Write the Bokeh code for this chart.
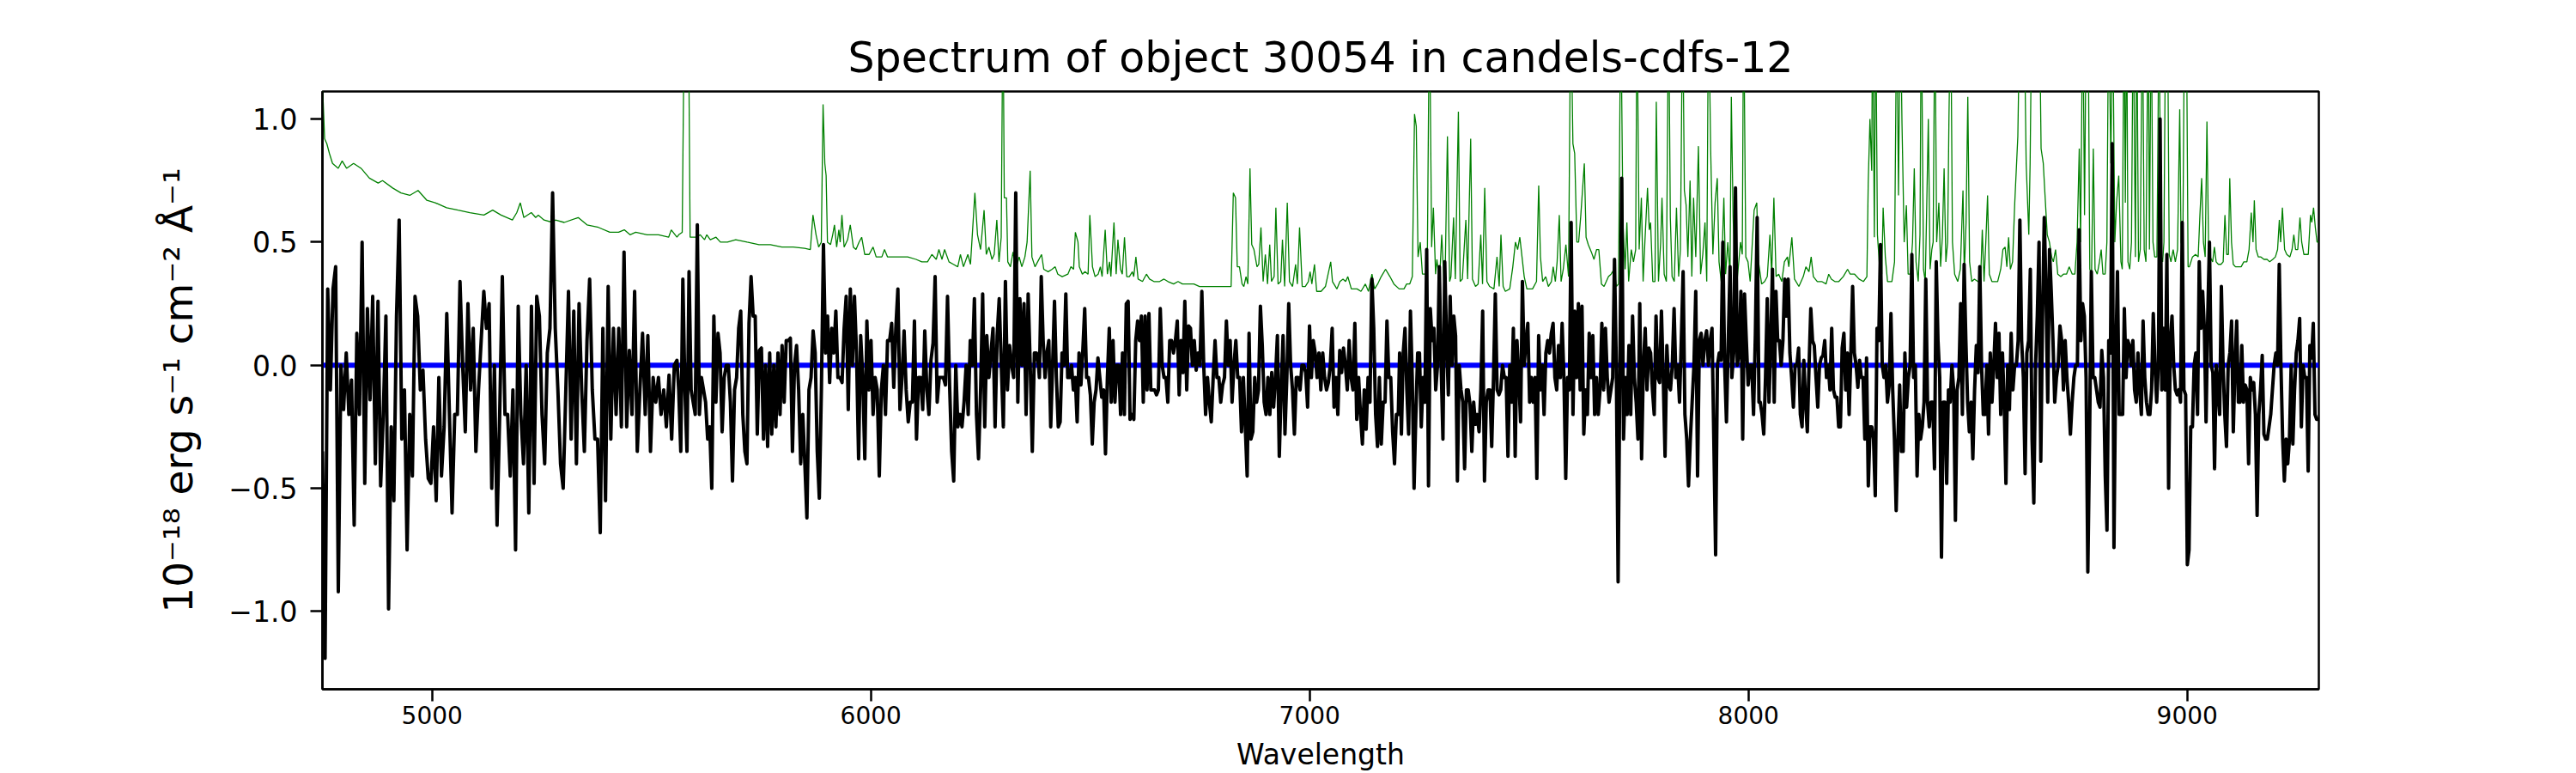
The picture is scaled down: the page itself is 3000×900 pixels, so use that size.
import numpy as np
from bokeh.plotting import figure
from bokeh.models import FixedTicker, Range1d, CustomJSTickFormatter, ColumnDataSource
from bokeh.embed import file_html
from bokeh.resources import INLINE

# ---------------- text ----------------
TITLE = "Spectrum of object 30054 in candels-cdfs-12"
X_LABEL = "Wavelength"
Y_LABEL = "10\u207b\u00b9\u2078 erg s\u207b\u00b9 cm\u207b\u00b2 \u00c5\u207b\u00b9"
x_ticks = [5000, 6000, 7000, 8000, 9000]
y_ticks = [-1.0, -0.5, 0.0, 0.5, 1.0]
x_limits = [4750, 9300]
y_limits = [-1.316, 1.112]

# ---------------- object spectrum (black), read per wavelength stretch ----------------
segment_edges = [(4750, 5558), (5562, 6382), (6384, 7202), (7205, 8024), (8027, 8845), (8849, 9299)]

flux_1 = [-0.35, -1.19, 0.31, -0.1, 0.31, 0.40, -0.92, 0.0, -0.18, 0.05, -0.2, -0.06, -0.65, 0.13, -0.2,
          0.5, -0.48, 0.23, -0.14, 0.28, -0.4, 0.26, -0.49, -0.2, 0.2, -0.99, -0.25, -0.55, 0.2, 0.59,
          -0.3, -0.1, -0.75, -0.2, -0.45, 0.28, 0.2, -0.1, -0.02, -0.3, -0.46, -0.48, -0.25, -0.55, -0.05,
          -0.45, -0.25, 0.21, -0.2, -0.6, -0.2, -0.2, 0.34, 0.0, -0.27, 0.25, -0.1, 0.15, -0.35, -0.1,
          0.1, 0.3, 0.15, 0.25, -0.5, 0.0, -0.65, -0.2, 0.36, -0.2, -0.2, -0.45, -0.1, -0.75, 0.24,
          -0.2, -0.4, 0.0, -0.6, 0.24, -0.48, 0.28, 0.2, -0.2, -0.4, 0.05, 0.15, 0.7, 0.15, -0.1,
          -0.4, -0.5, -0.1, 0.3, -0.3, 0.22, -0.4, 0.25, -0.1, -0.35, 0.1, 0.35, -0.1, -0.3, -0.3,
          -0.68, 0.15, -0.55, 0.32, -0.3, 0.15, -0.2, 0.15, -0.25, 0.46, -0.25, 0.06, -0.2, 0.3, -0.35,
          -0.1, 0.13, -0.2, 0.12, -0.35, -0.05, -0.15, -0.05, -0.2, -0.1, -0.25, -0.04, -0.3, 0.0, 0.02]

flux_2 = [-0.1, -0.35, 0.35, -0.1, -0.35, 0.38, -0.1, -0.15, -0.2, 0.57, -0.2, -0.05, -0.1, -0.15, -0.3,
          -0.25, -0.5, 0.2, -0.15, 0.13, 0.05, -0.27, -0.05, 0.0, 0.0, -0.15, -0.47, -0.1, -0.05, 0.15,
          0.22, -0.2, -0.35, -0.4, 0.17, 0.36, 0.2, 0.2, -0.28, 0.06, 0.07, -0.3, 0.0, -0.33, 0.05,
          -0.28, 0.0, -0.25, 0.05, -0.2, 0.08, -0.15, 0.1, 0.1, 0.11, -0.35, 0.0, 0.08, -0.1, -0.4,
          -0.2, -0.4, -0.62, -0.1, -0.05, 0.14, 0.05, -0.35, -0.54, -0.1, 0.49, 0.05, 0.2, -0.07, 0.15,
          0.05, 0.22, -0.05, -0.05, -0.07, 0.15, 0.28, -0.18, 0.31, 0.0, 0.28, 0.05, -0.38, 0.12, -0.05,
          -0.38, 0.18, -0.1, 0.1, -0.2, -0.05, -0.1, -0.45, -0.1, 0.0, -0.2, 0.1, 0.1, 0.17, -0.09,
          0.15, 0.31, -0.18, -0.05, 0.14, -0.1, -0.23, -0.15, -0.15, 0.18, -0.3, -0.05, -0.05, -0.18, 0.14,
          -0.1, -0.2, 0.02, 0.09, 0.36, -0.15, -0.05, -0.05, -0.05, -0.08, 0.28, -0.08, -0.35, -0.47, 0.0,
          -0.25, -0.2, -0.25, -0.15, 0.0, -0.2, 0.1, 0.0, 0.27, -0.2, -0.38, -0.1, 0.29, -0.25, 0.12,
          -0.05, 0.05, 0.15, -0.25, 0.12, 0.27, 0.0, -0.25, 0.34, -0.1, 0.08, 0.0, -0.05, 0.7, -0.15,
          0.27, 0.0, 0.25, -0.2, 0.29, 0.0, -0.35, 0.05, 0.05, 0.0]

flux_3 = [-0.05, 0.36, 0.1, -0.05, 0.05, 0.1, -0.25, 0.0, 0.26, -0.05, -0.25, -0.23, 0.05, 0.0, 0.29,
          -0.05, -0.05, 0.0, -0.1, -0.05, -0.23, 0.05, -0.08, 0.06, 0.23, -0.05, -0.05, -0.12, -0.32, -0.15,
          -0.1, 0.03, -0.05, -0.13, -0.1, -0.36, -0.05, 0.15, -0.15, 0.1, -0.15, 0.0, 0.0, -0.2, 0.05,
          -0.2, 0.25, 0.26, -0.22, -0.2, -0.22, 0.1, 0.18, 0.1, 0.2, -0.15, 0.2, -0.1, 0.21, -0.1,
          -0.1, -0.1, -0.12, -0.1, 0.23, 0.0, -0.05, -0.05, -0.15, 0.1, 0.1, 0.05, 0.1, 0.18, -0.12,
          0.1, -0.03, 0.26, -0.1, 0.16, 0.15, 0.0, 0.1, -0.02, 0.05, 0.0, 0.3, 0.0, -0.2, -0.05,
          -0.15, -0.23, -0.05, 0.1, -0.05, -0.05, -0.15, -0.08, -0.05, 0.18, 0.0, 0.1, -0.15, 0.0, 0.1,
          -0.05, -0.05, -0.27, -0.05, -0.25, -0.45, 0.13, -0.3, -0.27, -0.05, -0.15, -0.1, 0.24, 0.08, -0.15,
          -0.2, -0.05, -0.2, -0.03, -0.17, -0.05, 0.12, -0.37, -0.1, 0.12, -0.28, -0.05, 0.25, 0.0, -0.1,
          -0.28, -0.05, -0.05, -0.1, 0.0, 0.0, -0.03, -0.17, 0.16, -0.05, 0.1, 0.05, -0.05, 0.05, -0.1,
          0.05, -0.05, -0.1, -0.07, 0.0, 0.15, -0.17, -0.05, -0.2, 0.06, -0.03, 0.07, 0.0, -0.1, 0.1,
          -0.05, -0.1, 0.17, -0.22, -0.05, -0.2, -0.32, -0.1, -0.26, -0.05, -0.15, 0.35, 0.15, -0.2, -0.33,
          -0.05, -0.32, -0.15, -0.15, 0.18, -0.05, -0.05, -0.27, -0.4, -0.2, -0.2]

flux_4 = [0.05, -0.28, 0.05, 0.15, -0.1, -0.28, 0.22, -0.05, -0.5, -0.2, 0.05, 0.05, -0.25, -0.05, -0.15,
          0.47, -0.49, 0.23, 0.1, 0.15, -0.1, 0.0, 0.4, 0.0, -0.3, 0.42, 0.1, -0.12, 0.28, 0.0,
          0.2, 0.12, -0.47, 0.0, -0.1, -0.15, -0.42, -0.1, -0.1, -0.16, -0.35, -0.15, -0.24, -0.2, -0.27,
          -0.1, 0.22, -0.47, -0.15, -0.1, -0.1, -0.33, -0.05, 0.29, -0.1, -0.12, -0.1, 0.0, -0.05, -0.05,
          -0.37, 0.0, -0.15, 0.15, -0.37, 0.1, -0.05, -0.23, 0.34, 0.0, 0.1, 0.17, -0.15, -0.05, -0.15,
          -0.05, -0.46, 0.12, -0.1, 0.0, -0.2, 0.05, 0.1, 0.05, 0.13, 0.17, -0.05, -0.1, 0.08, -0.05,
          0.17, -0.05, -0.46, -0.05, -0.1, 0.58, -0.2, 0.22, -0.05, 0.25, -0.1, 0.24, -0.28, -0.1, -0.2,
          0.13, -0.05, 0.12, -0.2, -0.05, -0.2, -0.1, 0.17, -0.1, 0.15, -0.05, -0.15, -0.1, -0.05, 0.43,
          0.0, -0.88, 0.0, 0.76, -0.3, -0.05, -0.2, 0.08, -0.2, 0.2, -0.05, -0.15, -0.3, 0.25, -0.38,
          0.0, 0.15, -0.1, 0.07, 0.05, -0.1, -0.2, 0.2, -0.05, -0.07, 0.22, -0.05, -0.37, 0.08, -0.08,
          -0.1, 0.0, 0.23, -0.05, 0.0, -0.15, 0.1, 0.38, -0.2, -0.3, -0.49, -0.3, -0.15, 0.0, 0.3,
          -0.45, 0.1, 0.13, 0.0, 0.1, 0.14, 0.0, 0.1, 0.15, -0.3, -0.77, 0.0, 0.05, 0.02, 0.5,
          0.0, -0.23, 0.1, 0.4, -0.05, 0.05, 0.72, 0.0, 0.05, 0.3, -0.3, 0.29, 0.1, -0.08, 0.0,
          0.0, -0.2, 0.12, 0.6, -0.15]

flux_5 = [-0.15, -0.2, -0.28, -0.05, 0.27, -0.15, 0.1, 0.39, -0.15, 0.3, 0.1, 0.1, 0.0, 0.1, 0.35,
          0.2, 0.35, 0.05, -0.05, -0.17, 0.0, 0.0, 0.07, -0.2, -0.25, 0.02, -0.15, -0.27, 0.0, 0.23,
          0.1, 0.08, -0.05, -0.17, 0.0, 0.03, 0.04, 0.1, -0.05, 0.0, -0.1, 0.15, -0.1, -0.13, -0.13,
          -0.25, -0.25, 0.07, 0.13, -0.1, 0.05, -0.2, 0.05, 0.32, 0.05, 0.0, -0.09, 0.02, -0.05, -0.05,
          -0.3, 0.03, -0.49, -0.25, -0.25, -0.3, -0.53, 0.15, 0.1, 0.49, 0.0, -0.05, 0.0, -0.15, -0.08,
          0.21, -0.1, -0.3, -0.59, -0.3, -0.08, -0.35, -0.35, 0.05, -0.17, -0.05, 0.0, 0.45, -0.05, 0.0,
          -0.45, -0.2, -0.3, -0.25, -0.15, 0.35, -0.15, -0.25, -0.15, -0.15, -0.42, 0.42, 0.1, -0.05, -0.78,
          -0.15, -0.15, -0.48, -0.1, -0.15, 0.0, -0.1, -0.63, -0.1, -0.05, 0.25, -0.2, 0.41, 0.1, -0.15,
          -0.27, -0.15, -0.38, -0.1, 0.08, -0.03, 0.4, 0.0, -0.2, -0.2, 0.0, -0.28, 0.05, -0.15, 0.0,
          0.17, -0.05, 0.13, -0.2, 0.05, -0.15, -0.48, 0.0, -0.18, 0.13, -0.1, 0.0, 0.0, 0.1, 0.59,
          0.1, -0.05, -0.44, 0.05, 0.1, 0.39, -0.3, -0.56, 0.0, 0.2, 0.5, -0.39, 0.2, 0.6, 0.3,
          -0.15, 0.47, 0.3, 0.1, -0.15, -0.05, 0.0, 0.16, 0.1, -0.1, 0.1, -0.05, -0.15, -0.28, -0.15,
          -0.05, 0.0, 0.0, 0.55, 0.1, 0.25, 0.2, -0.05, -0.84, -0.3, 0.38, -0.05, -0.05, -0.1, -0.15,
          -0.17, 0.06, -0.05, -0.45, -0.67, 0.1, 0.05, 0.9, -0.74, 0.0, 0.38, -0.2]

flux_6 = [-0.2, -0.2, 0.23, -0.05, 0.1, 0.08, 0.0, 0.1, -0.1, -0.15, 0.05, -0.1, -0.2, 0.18, -0.05,
          -0.15, -0.2, -0.2, -0.1, 0.21, 0.0, -0.15, 0.0, 1.0, -0.1, 0.15, -0.1, 0.45, -0.5, 0.1,
          0.2, 0.0, -0.1, -0.12, -0.1, -0.15, 0.58, -0.1, -0.12, -0.81, -0.75, -0.25, -0.25, 0.0, 0.05,
          -0.2, 0.42, 0.15, 0.3, 0.15, -0.23, 0.2, 0.5, 0.0, -0.03, -0.42, 0.0, -0.1, -0.2, 0.32,
          0.0, -0.2, -0.33, 0.0, 0.05, 0.18, -0.27, 0.0, 0.18, -0.15, -0.15, 0.08, -0.15, -0.08, -0.1,
          -0.4, -0.05, -0.1, -0.07, -0.2, -0.61, -0.2, -0.1, 0.04, -0.28, -0.3, -0.3, -0.25, -0.2, -0.1,
          0.0, 0.05, 0.0, 0.41, 0.0, -0.3, -0.47, -0.3, -0.4, -0.3, 0.0, -0.32, -0.1, 0.05, 0.1,
          0.19, -0.25, 0.0, -0.05, -0.05, -0.43, 0.08, 0.03, 0.17, -0.2, -0.22, -0.22]

flux_segments = [flux_1, flux_2, flux_3, flux_4, flux_5, flux_6]

# ---------------- sky / noise spectrum (green) ----------------
sky_wave = [4750, 4755, 4760, 4766, 4773, 4786, 4795, 4805, 4821, 4838, 4857, 4877, 4887, 4910, 4929, 4949,
            4968, 4988, 5007, 5033, 5059, 5086, 5118, 5138, 5157, 5183, 5193, 5201, 5209, 5226, 5236, 5242,
            5255, 5275, 5281, 5301, 5333, 5353, 5379, 5405, 5425, 5438, 5451, 5464, 5490, 5516, 5539, 5545,
            5558,
            5562, 5570, 5575, 5584, 5588, 5601, 5611, 5621, 5626, 5634, 5647, 5657, 5673, 5692, 5718, 5745,
            5771, 5797, 5823, 5849, 5862, 5868, 5875, 5881, 5887, 5891, 5895, 5898, 5901, 5908, 5913, 5917,
            5922, 5927, 5930, 5934, 5939, 5947, 5953, 5960, 5966, 5973, 5979, 5986, 5996, 6005, 6012, 6025,
            6031, 6038, 6057, 6070, 6084, 6103, 6116, 6129, 6139, 6149, 6155, 6162, 6168, 6178, 6188, 6198,
            6204, 6211, 6221, 6227, 6237, 6243, 6250, 6258, 6263, 6269, 6276, 6281, 6287, 6292, 6297, 6301,
            6304, 6309, 6312, 6318, 6324, 6330, 6338, 6344, 6351, 6356, 6363, 6367, 6374, 6380,
            6389, 6394, 6404, 6413, 6420, 6426, 6436, 6449, 6456, 6462, 6466, 6472, 6475, 6482, 6488, 6495,
            6499, 6505, 6511, 6518, 6523, 6527, 6534, 6539, 6544, 6547, 6554, 6559, 6563, 6569, 6573, 6578,
            6583, 6589, 6596, 6599, 6604, 6609, 6619, 6628, 6635, 6645, 6658, 6668, 6677, 6690, 6700, 6710,
            6723, 6736, 6749, 6762, 6775, 6788, 6801, 6814, 6821, 6826, 6831, 6835, 6840, 6846, 6850, 6855,
            6859, 6864, 6868, 6873, 6880, 6884, 6889, 6894, 6899, 6904, 6909, 6913, 6919, 6923, 6928, 6934,
            6938, 6943, 6949, 6954, 6961, 6968, 6972, 6977, 6983, 6990, 6997, 7001, 7005, 7011, 7016, 7026,
            7036, 7048, 7052, 7062, 7069, 7076, 7082, 7087, 7095, 7108, 7117, 7127, 7134, 7142, 7148, 7155,
            7163, 7173, 7183, 7192, 7204,
            7215, 7221, 7228, 7234, 7239, 7243, 7247, 7252, 7257, 7264, 7268, 7273, 7278, 7282, 7287, 7290,
            7296, 7301, 7306, 7309, 7314, 7319, 7322, 7328, 7332, 7339, 7343, 7348, 7356, 7360, 7367, 7371,
            7378, 7384, 7390, 7394, 7399, 7404, 7410, 7420, 7427, 7432, 7436, 7441, 7446, 7456, 7463, 7469,
            7474, 7479, 7484, 7489, 7495, 7508, 7517, 7522, 7526, 7531, 7538, 7544, 7551, 7555, 7560, 7564,
            7569, 7573, 7578, 7584, 7590, 7595, 7600, 7604, 7609, 7613, 7618, 7626, 7630, 7635, 7642, 7648,
            7654, 7659, 7665, 7671, 7681, 7687, 7694, 7699, 7704, 7709, 7714, 7719, 7723, 7727, 7733, 7738,
            7743, 7746, 7751, 7756, 7760, 7764, 7770, 7774, 7777, 7782, 7787, 7790, 7795, 7800, 7803, 7808,
            7813, 7818, 7822, 7826, 7831, 7836, 7841, 7845, 7850, 7854, 7858, 7862, 7867, 7871, 7875, 7880,
            7886, 7891, 7896, 7901, 7905, 7909, 7914, 7919, 7924, 7929, 7933, 7938, 7944, 7948, 7953, 7958,
            7961, 7965, 7969, 7974, 7982, 7986, 7989, 7994, 7999, 8004, 8008, 8013, 8019, 8023,
            8030, 8037, 8043, 8049, 8053, 8058, 8063, 8069, 8076, 8082, 8089, 8092, 8099, 8105, 8115, 8125,
            8131, 8138, 8143, 8148, 8157, 8167, 8177, 8183, 8189, 8197, 8206, 8216, 8226, 8232, 8242, 8252,
            8262, 8270, 8273, 8277, 8281, 8283, 8287, 8290, 8294, 8300, 8304, 8307, 8312, 8317, 8327, 8333,
            8338, 8342, 8346, 8350, 8355, 8360, 8364, 8369, 8374, 8378, 8382, 8387, 8391, 8394, 8399, 8403,
            8406, 8410, 8414, 8418, 8421, 8425, 8429, 8434, 8438, 8442, 8446, 8450, 8454, 8457, 8461, 8465,
            8470, 8477, 8483, 8489, 8492, 8496, 8500, 8504, 8509, 8515, 8523, 8529, 8533, 8537, 8541, 8545,
            8549, 8555, 8568, 8575, 8580, 8585, 8589, 8593, 8597, 8602, 8607, 8614, 8619, 8624, 8628, 8633,
            8639, 8642, 8646, 8652, 8657, 8663, 8667, 8672, 8676, 8681, 8686, 8691, 8695, 8700, 8705, 8712,
            8718, 8725, 8731, 8738, 8744, 8749, 8754, 8757, 8762, 8766, 8770, 8774, 8778, 8782, 8786, 8790,
            8795, 8800, 8804, 8808, 8813, 8817, 8821, 8826, 8830, 8835, 8839, 8844,
            8849, 8852, 8856, 8859, 8862, 8865, 8869, 8873, 8877, 8882, 8885, 8889, 8893, 8898, 8902, 8906,
            8911, 8914, 8918, 8922, 8926, 8931, 8936, 8940, 8944, 8947, 8951, 8955, 8959, 8963, 8968, 8973,
            8978, 8983, 8986, 8990, 8994, 8998, 9002, 9005, 9012, 9019, 9025, 9029, 9033, 9037, 9041, 9045,
            9049, 9052, 9058, 9062, 9066, 9071, 9077, 9082, 9086, 9090, 9094, 9097, 9101, 9105, 9110, 9116,
            9123, 9129, 9136, 9141, 9146, 9150, 9153, 9157, 9162, 9168, 9175, 9182, 9188, 9195, 9201, 9206,
            9210, 9213, 9217, 9222, 9227, 9234, 9239, 9243, 9247, 9252, 9257, 9261, 9266, 9271, 9276, 9281,
            9284, 9288, 9292, 9296, 9300]

sky_flux = [1.15, 0.92, 0.90, 0.86, 0.82, 0.80, 0.83, 0.80, 0.82, 0.80, 0.76, 0.74, 0.75, 0.72, 0.70, 0.69,
            0.71, 0.67, 0.66, 0.64, 0.63, 0.62, 0.61, 0.63, 0.61, 0.59, 0.62, 0.66, 0.60, 0.62, 0.60, 0.61,
            0.59, 0.58, 0.59, 0.58, 0.60, 0.57, 0.56, 0.54, 0.54, 0.55, 0.53, 0.54, 0.53, 0.53, 0.52, 0.55,
            0.52,
            0.53, 0.54, 1.5, 1.5, 0.52, 0.52, 0.53, 0.51, 0.53, 0.51, 0.52, 0.50, 0.50, 0.51, 0.50, 0.49,
            0.49, 0.48, 0.48, 0.475, 0.47, 0.61, 0.53, 0.48, 0.50, 1.06, 0.82, 0.77, 0.50, 0.49, 0.53, 0.57,
            0.48, 0.55, 0.50, 0.61, 0.48, 0.51, 0.57, 0.48, 0.47, 0.50, 0.52, 0.45, 0.45, 0.48, 0.44, 0.44,
            0.47, 0.44, 0.44, 0.44, 0.44, 0.43, 0.42, 0.42, 0.45, 0.43, 0.47, 0.43, 0.47, 0.42, 0.41, 0.40,
            0.45, 0.40, 0.45, 0.41, 0.70, 0.53, 0.47, 0.63, 0.45, 0.48, 0.43, 0.45, 0.59, 0.42, 0.52, 1.5,
            0.68, 0.68, 0.42, 0.40, 0.46, 0.39, 0.44, 0.40, 0.44, 0.50, 0.79, 0.44, 0.40, 0.42,
            0.45, 0.39, 0.38, 0.39, 0.40, 0.37, 0.36, 0.37, 0.40, 0.39, 0.54, 0.50, 0.40, 0.37, 0.38, 0.37,
            0.61, 0.40, 0.36, 0.37, 0.40, 0.36, 0.55, 0.37, 0.42, 0.36, 0.58, 0.37, 0.51, 0.39, 0.37, 0.52,
            0.36, 0.36, 0.38, 0.36, 0.44, 0.35, 0.34, 0.37, 0.35, 0.34, 0.34, 0.35, 0.34, 0.33, 0.34, 0.33,
            0.33, 0.33, 0.32, 0.32, 0.32, 0.32, 0.32, 0.32, 0.32, 0.70, 0.68, 0.40, 0.40, 0.33, 0.32, 0.36,
            0.33, 0.80, 0.49, 0.47, 0.40, 0.41, 0.56, 0.34, 0.45, 0.33, 0.49, 0.34, 0.36, 0.64, 0.33, 0.34,
            0.51, 0.32, 0.66, 0.34, 0.32, 0.41, 0.33, 0.56, 0.32, 0.32, 0.34, 0.38, 0.33, 0.41, 0.30, 0.30,
            0.32, 0.42, 0.34, 0.31, 0.34, 0.35, 0.34, 0.36, 0.31, 0.31, 0.30, 0.33, 0.30, 0.37, 0.31, 0.33,
            0.36, 0.39, 0.36, 0.33, 0.31,
            0.31, 0.33, 0.33, 0.36, 1.02, 0.97, 0.44, 0.50, 0.37, 0.37, 0.39, 1.5, 0.48, 0.64, 0.37, 0.43,
            0.34, 0.53, 0.34, 0.39, 0.93, 0.34, 0.36, 0.60, 0.35, 1.03, 0.34, 0.35, 0.59, 0.35, 0.92, 0.35,
            0.32, 0.33, 0.53, 0.33, 0.72, 0.34, 0.32, 0.31, 0.44, 0.32, 0.53, 0.32, 0.30, 0.31, 0.40, 0.50,
            0.47, 0.52, 0.44, 0.36, 0.31, 0.31, 0.34, 0.73, 0.44, 0.34, 0.36, 0.32, 0.34, 0.40, 0.34, 0.42,
            0.61, 0.34, 0.39, 0.49, 0.36, 1.5, 0.90, 0.86, 0.50, 0.50, 0.61, 0.82, 0.52, 0.49, 0.46, 0.43,
            0.47, 0.47, 0.33, 0.32, 0.36, 0.37, 0.39, 0.32, 0.33, 1.5, 0.58, 0.39, 0.58, 0.34, 0.47, 0.42,
            0.47, 1.5, 0.47, 0.68, 0.34, 0.50, 0.72, 0.55, 0.58, 0.34, 0.34, 1.07, 0.34, 0.50, 0.68, 0.37,
            0.34, 1.5, 0.60, 0.36, 0.34, 0.64, 0.36, 0.47, 1.5, 0.71, 0.65, 0.44, 0.75, 0.36, 0.68, 0.44,
            0.89, 0.37, 0.45, 0.58, 0.34, 1.5, 0.87, 0.45, 0.66, 0.76, 0.42, 0.34, 0.68, 0.37, 0.50, 0.37,
            1.09, 0.61, 0.36, 0.34, 0.50, 0.45, 1.5, 0.44, 0.42, 0.34, 0.47, 0.63, 0.66, 0.42,
            0.33, 0.34, 0.36, 0.53, 0.37, 0.68, 0.36, 0.37, 0.34, 0.42, 0.44, 0.40, 0.52, 0.35, 0.32, 0.36,
            0.40, 0.38, 0.44, 0.36, 0.34, 0.34, 0.33, 0.37, 0.35, 0.34, 0.34, 0.36, 0.39, 0.37, 0.37, 0.35,
            0.34, 0.36, 0.74, 1.00, 0.79, 1.5, 0.52, 1.5, 0.53, 0.37, 0.37, 0.64, 0.44, 0.34, 0.34, 0.42,
            1.5, 0.69, 1.5, 0.98, 0.50, 0.65, 0.37, 0.37, 0.50, 0.80, 0.42, 0.34, 0.53, 1.5, 0.39, 0.34,
            0.61, 1.0, 0.39, 0.47, 0.50, 1.5, 0.50, 0.66, 0.40, 0.52, 0.80, 0.42, 0.50, 1.0, 1.5, 0.50,
            0.37, 0.34, 0.39, 0.71, 0.37, 0.58, 1.09, 0.42, 0.34, 0.35, 0.34, 0.34, 0.55, 0.34, 0.50, 0.69,
            0.37, 0.34, 0.34, 0.39, 0.47, 0.48, 0.40, 0.52, 0.39, 0.42, 0.66, 0.93, 1.5, 1.5, 1.5, 0.82,
            0.53, 0.82, 1.5, 1.5, 1.5, 1.5, 0.88, 0.82, 0.69, 0.53, 0.50, 0.44, 0.42, 0.47, 0.37, 0.36,
            0.37, 0.37, 0.40, 0.37, 0.37, 0.50, 0.88, 0.50, 1.5, 0.61, 1.5, 1.5, 0.39, 0.37, 0.88, 0.39,
            0.37, 0.42, 0.47, 0.37, 0.37, 0.50, 1.5, 0.82, 1.5, 0.50, 0.66, 0.77,
            0.42, 0.39, 1.5, 0.66, 1.5, 0.42, 0.39, 0.50, 1.5, 0.44, 1.5, 0.42, 0.47, 1.5, 0.47, 0.42,
            1.5, 0.47, 1.5, 0.50, 0.44, 0.44, 1.5, 0.45, 0.42, 0.50, 1.5, 1.5, 0.45, 0.42, 0.47, 0.42,
            0.47, 1.04, 0.50, 0.47, 1.5, 1.5, 0.40, 0.40, 0.44, 0.45, 0.44, 0.61, 0.76, 0.50, 0.44, 0.99,
            0.45, 0.44, 0.42, 0.48, 0.42, 0.41, 0.41, 0.42, 0.61, 0.45, 0.45, 0.76, 0.50, 0.41, 0.40, 0.40,
            0.40, 0.42, 0.42, 0.47, 0.62, 0.50, 0.67, 0.47, 0.44, 0.44, 0.43, 0.43, 0.42, 0.43, 0.44, 0.47,
            0.59, 0.50, 0.64, 0.47, 0.45, 0.44, 0.47, 0.53, 0.47, 0.47, 0.60, 0.50, 0.45, 0.45, 0.45, 0.61,
            0.58, 0.64, 0.56, 0.50, 0.50]

zero_wave = [4750, 9300]
zero_flux = [0.0, 0.0]

# ---------------- build sources ----------------
wave_parts = [np.linspace(a, b, len(f)) for (a, b), f in zip(segment_edges, flux_segments)]
obj_src = ColumnDataSource(dict(wave=np.concatenate(wave_parts),
                                flux=np.concatenate([np.asarray(f, float) for f in flux_segments])))
sky_src = ColumnDataSource(dict(wave=sky_wave, flux=sky_flux))
zero_src = ColumnDataSource(dict(wave=zero_wave, flux=zero_flux))

FONT = "DejaVu Sans"

p = figure(width=2984, height=900,
           x_range=Range1d(*x_limits), y_range=Range1d(*y_limits),
           output_backend="svg", toolbar_location=None,
           min_border_left=375, min_border_right=284, min_border_top=106, min_border_bottom=96,
           background_fill_color="white", border_fill_color="white")

p.title.text = TITLE
p.title.text_font = FONT
p.title.text_font_size = "49px"
p.title.text_font_style = "normal"
p.title.text_color = "black"
p.title.align = "center"
p.title.standoff = 22

p.line("wave", "flux", source=sky_src, line_color="green", line_width=1.3)
p.line("wave", "flux", source=zero_src, line_color="#0000ff", line_width=6)
p.line("wave", "flux", source=obj_src, line_color="black", line_width=4, line_join="round")

p.grid.visible = False
p.outline_line_color = "black"
p.outline_line_width = 2.5

for ax in (p.xaxis[0], p.yaxis[0]):
    ax.axis_line_width = 2.5
    ax.axis_line_color = "black"
    ax.major_tick_out = 14
    ax.major_tick_in = 0
    ax.major_tick_line_width = 2.5
    ax.major_tick_line_color = "black"
    ax.minor_tick_out = 0
    ax.minor_tick_in = 0
    ax.major_label_text_font = FONT
    ax.major_label_text_color = "black"
    ax.axis_label_text_font = FONT
    ax.axis_label_text_font_style = "normal"
    ax.axis_label_text_color = "black"

p.xaxis.ticker = FixedTicker(ticks=x_ticks)
p.xaxis.major_label_text_font_size = "28px"
p.xaxis.major_label_standoff = 5
p.xaxis.axis_label = X_LABEL
p.xaxis.axis_label_text_font_size = "33px"
p.xaxis.axis_label_standoff = 13

p.yaxis.ticker = FixedTicker(ticks=y_ticks)
p.yaxis.formatter = CustomJSTickFormatter(code="return tick.toFixed(1).replace('-', '\u2212');")
p.yaxis.major_label_text_font_size = "33px"
p.yaxis.major_label_standoff = 15
p.yaxis.axis_label = Y_LABEL
p.yaxis.axis_label_text_font_size = "47px"
p.yaxis.axis_label_standoff = 28

with open("out.html", "w") as fh:
    fh.write(file_html(p, INLINE))
